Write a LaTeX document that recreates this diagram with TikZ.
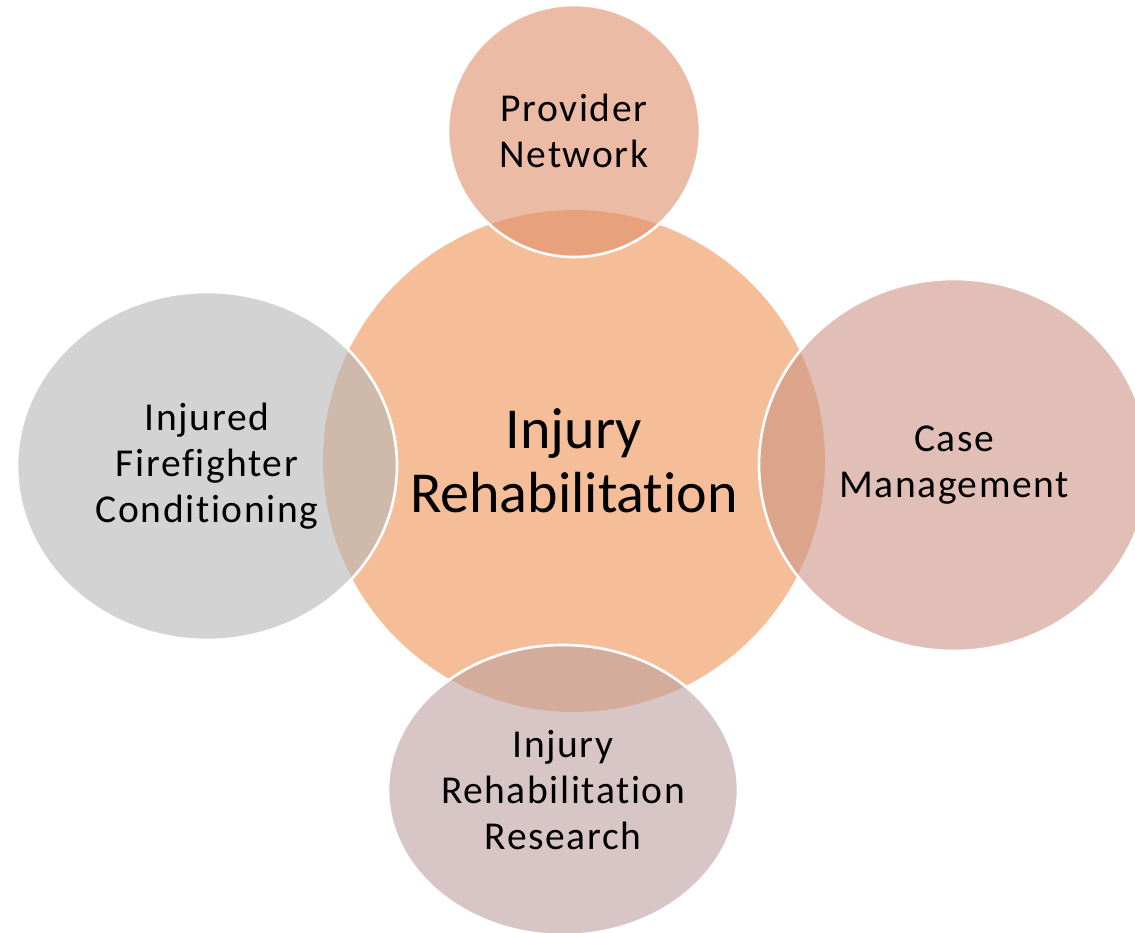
\documentclass[tikz,border=0pt]{standalone}
\usepackage{fontspec}
\setmainfont{Carlito}[Ligatures=NoCommon]
\newfontfamily\labelfont[LetterSpace=4,Ligatures=NoCommon]{Carlito}
\usetikzlibrary{shapes.geometric}

\definecolor{hubpeach}{RGB}{245,190,152}
\definecolor{toprose}{RGB}{222,142,107}
\definecolor{leftgrey}{RGB}{182,182,182}
\definecolor{rightrose}{RGB}{205,148,133}
\definecolor{bottommauve}{RGB}{190,160,160}

\tikzset{
  bubble/.style={ellipse, inner sep=0pt, draw=white, line width=1.5pt,
    fill opacity=0.6, text opacity=1, align=center,
    font=\labelfont\fontsize{22.5}{26.2}\selectfont},
  hub/.style={circle, inner sep=0pt, fill=hubpeach, align=center,
    font=\fontsize{33}{36.4}\selectfont}
}

\begin{document}
\begin{tikzpicture}
\useasboundingbox (0,0) rectangle (22.7,18.64);

% centre first, the others lie over it
\node[hub, minimum size=10.04cm] (rehab) at (11.48,9.42) {Injury\\Rehabilitation};

\node[bubble, fill=toprose, minimum width=5.04cm, minimum height=5.04cm] (provider) at (11.48,16.02) {Provider\\Network};
\node[bubble, fill=leftgrey, minimum width=7.6cm, minimum height=6.96cm] (firefighter) at (4.14,9.32) {Injured\\Firefighter\\Conditioning};
\node[bubble, fill=rightrose, minimum width=7.8cm, minimum height=7.44cm] (casemgmt) at (19.08,9.34) {Case\\Management};
\node[bubble, fill=bottommauve, minimum width=7.0cm, minimum height=5.8cm] (research) at (11.26,2.84) {Injury\\Rehabilitation\\Research};

\end{tikzpicture}
\end{document}
